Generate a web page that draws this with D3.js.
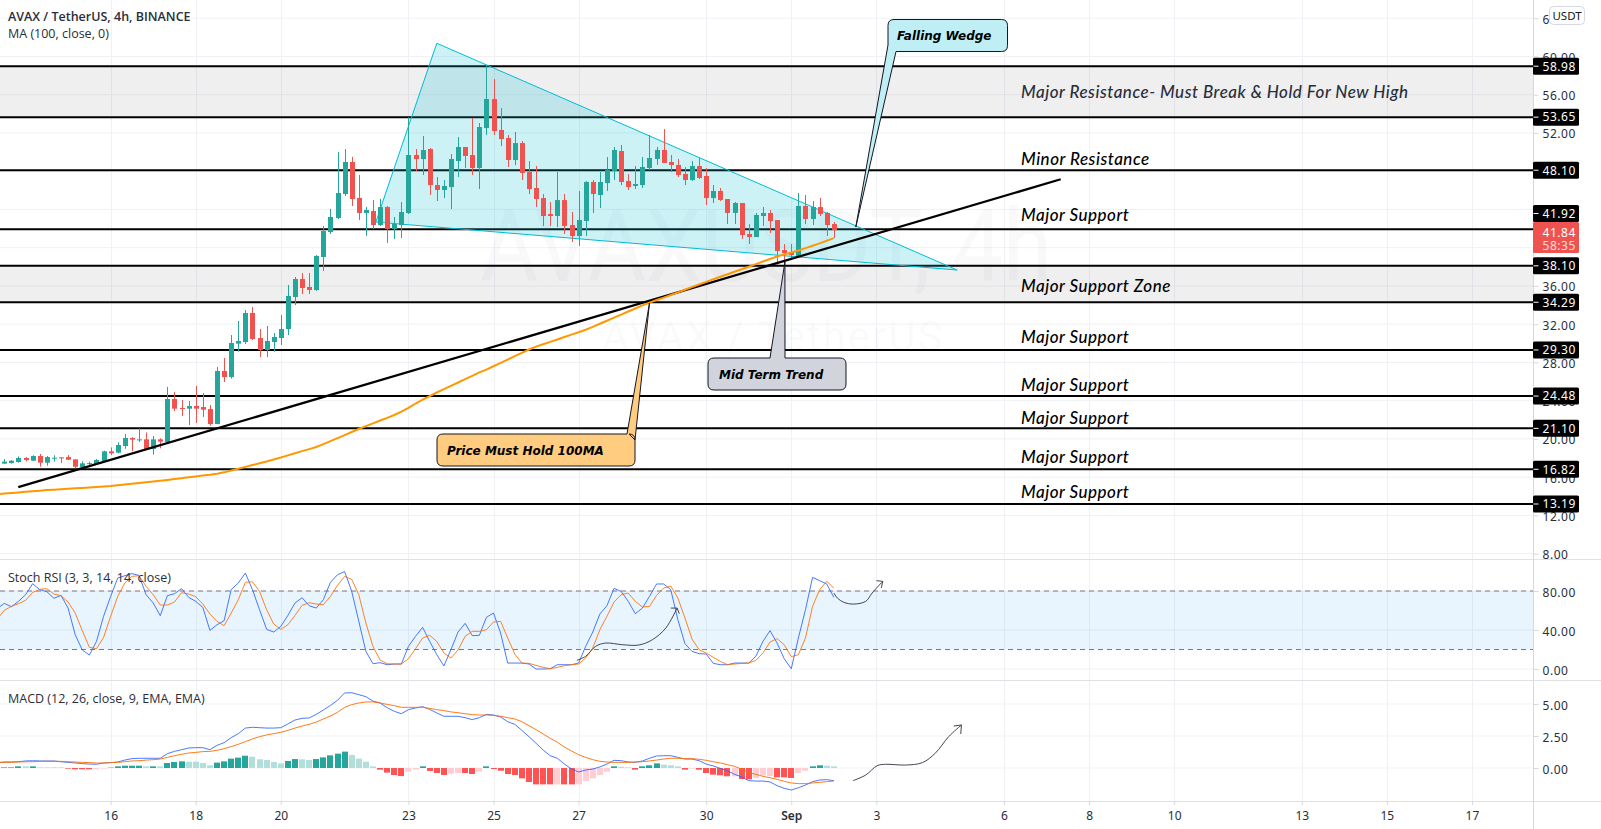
<!DOCTYPE html>
<html>
<head>
<meta charset="utf-8">
<title>AVAX / TetherUS, 4h</title>
<script src="https://cdn.jsdelivr.net/npm/d3@7"></script>
<style>
  html, body { margin: 0; padding: 0; background: #fff; overflow: hidden; }
  svg { display: block; }
</style>
</head>
<body>
<svg id="chart" width="1601" height="829"></svg>
<script>
// 4h candles
const opens = [17.41,17.47,17.58,18.00,17.72,18.21,17.51,17.93,18.07,18.10,
  17.86,17.02,17.37,17.37,17.68,18.70,18.56,19.25,20.09,19.85,
  19.95,18.94,19.95,19.67,24.17,23.23,23.16,23.44,23.33,23.12,
  21.55,27.10,26.47,29.96,30.13,33.17,30.55,29.30,30.13,30.55,
  31.49,34.84,36.72,35.89,35.57,39.02,41.64,43.10,45.61,48.96,
  45.20,43.63,43.84,42.37,44.25,41.95,42.37,43.62,49.69,49.27,
  50.32,46.55,46.03,46.34,49.06,50.53,49.69,48.33,52.51,55.55,
  52.31,51.47,49.17,50.94,47.91,46.24,45.19,43.52,43.31,44.98,
  42.37,41.22,42.79,46.87,45.51,46.76,48.02,50.11,46.97,46.45,
  46.55,48.33,49.27,50.22,48.96,48.65,47.71,47.08,48.54,47.50,
  45.19,45.93,45.09,43.63,44.67,41.43,41.11,43.31,43.63,42.89,
  39.75,39.55,39.02,44.36,43.00,44.25,43.63,42.47];
const highs = [17.89,17.79,18.17,18.10,18.28,18.42,18.21,18.28,18.07,18.31,
  17.86,17.65,17.62,17.89,18.77,19.11,19.64,20.51,20.19,21.10,
  20.68,20.30,20.06,25.43,24.90,24.06,23.96,25.53,24.80,23.54,
  27.52,28.46,30.86,32.33,33.48,33.79,31.49,31.81,31.07,32.96,
  36.10,36.93,37.35,37.35,39.23,42.27,44.05,50.01,50.32,49.49,
  47.60,44.25,44.99,45.09,44.36,43.21,44.78,53.63,50.32,51.68,
  50.42,47.39,47.07,49.79,51.57,50.53,53.56,53.04,59.10,57.64,
  54.61,51.78,52.10,51.15,49.06,48.54,45.61,44.77,47.91,45.61,
  43.73,45.92,46.97,47.07,47.91,49.48,50.53,50.74,47.70,48.54,
  49.48,51.78,50.53,52.41,49.69,49.27,48.44,49.06,49.38,48.33,
  46.55,46.24,45.09,44.78,44.67,42.47,43.63,44.25,43.94,42.89,
  40.38,40.38,45.72,45.51,44.88,45.19,43.73,42.68];
const lows = [17.41,17.41,17.51,17.65,17.68,17.09,17.20,17.62,17.47,17.79,
  16.95,16.95,17.02,17.27,17.65,18.31,18.49,18.97,18.73,19.67,
  18.83,18.35,19.01,19.60,22.91,22.39,21.45,21.66,22.29,21.38,
  21.55,25.95,26.30,29.12,29.92,30.34,28.56,28.56,29.12,29.82,
  30.86,34.00,35.15,35.15,35.47,37.56,41.43,43.00,45.41,44.36,
  42.89,41.22,41.95,42.27,40.49,40.91,41.01,43.52,48.02,47.60,
  45.51,44.88,45.19,44.04,47.39,48.33,47.60,46.13,51.78,51.78,
  50.63,48.43,48.64,47.07,45.61,44.25,42.26,42.26,42.16,41.43,
  40.59,40.17,41.22,43.62,44.15,45.93,47.08,46.55,46.03,46.14,
  46.24,48.12,48.65,48.86,47.91,47.39,46.55,46.97,47.18,44.46,
  44.67,44.88,42.47,42.47,40.91,40.38,41.11,42.27,41.53,38.19,
  38.20,38.71,38.92,42.47,42.37,43.31,41.22,41.01];
const closes = [17.62,17.72,18.00,17.79,18.21,17.51,18.10,18.03,17.96,17.82,
  17.09,17.44,17.47,17.79,18.70,18.49,19.36,20.09,19.92,19.95,
  18.90,19.95,19.71,24.17,23.16,23.16,23.44,23.16,23.05,21.55,
  27.10,26.47,30.03,30.24,33.17,30.45,29.30,30.24,30.66,31.49,
  34.95,36.72,35.78,35.57,39.13,41.74,43.21,45.72,48.96,45.09,
  43.63,43.94,42.37,44.25,41.95,42.48,43.73,49.69,49.27,50.21,
  46.55,46.03,46.45,49.27,50.53,49.59,48.33,52.62,55.55,52.20,
  51.36,49.17,50.94,47.81,46.13,45.09,43.31,43.31,44.98,42.26,
  41.22,42.89,46.87,45.61,46.87,48.12,50.22,46.87,46.35,46.66,
  48.44,49.38,50.22,48.86,48.65,47.60,47.08,48.54,47.29,45.19,
  45.93,44.99,43.63,44.67,41.32,41.11,43.42,43.63,42.79,39.65,
  39.44,39.23,44.36,43.00,44.25,43.52,42.37,41.84];

// line series start one candle earlier, so they reach the left edge
const ma100 = [14.22,14.28,14.34,14.40,14.46,14.52,14.58,14.65,14.69,14.74,14.78,
  14.83,14.87,14.92,14.97,15.02,15.07,15.15,15.22,15.30,15.38,
  15.46,15.54,15.62,15.71,15.80,15.89,15.98,16.07,16.16,16.25,
  16.36,16.50,16.70,16.88,17.07,17.26,17.45,17.64,17.85,18.05,
  18.28,18.50,18.72,18.93,19.15,19.45,19.76,20.08,20.40,20.72,
  21.03,21.33,21.63,21.92,22.20,22.50,22.85,23.25,23.70,24.10,
  24.48,24.85,25.20,25.55,25.90,26.25,26.60,26.95,27.25,27.60,
  27.95,28.30,28.65,29.00,29.35,29.65,29.90,30.15,30.40,30.65,
  30.90,31.15,31.42,31.72,32.04,32.36,32.68,33.00,33.32,33.64,
  33.96,34.25,34.52,34.78,35.05,35.32,35.60,35.88,36.15,36.42,
  36.70,36.96,37.22,37.48,37.74,38.00,38.28,38.55,38.82,39.08,
  39.30,39.50,39.70,39.95,40.20,40.45,40.72,41.00];

const stochK = [61.9,67.3,63.9,69.4,76.2,87.5,81.4,79.3,72.5,75.5,62.5,
  35.2,19.5,14.3,28.3,54.0,74.5,93.3,95.7,97.8,96.0,
  76.2,67.7,54.7,75.2,77.2,82.4,73.5,69.4,63.2,39.6,
  45.4,49.5,81.4,88.2,98.4,81.4,60.8,40.7,37.9,43.7,
  55.0,67.7,73.1,64.9,62.5,71.1,88.9,96.7,100,79.6,
  48.9,18.1,5.4,6.5,4.4,5.1,5.1,23.2,33.5,42.7,
  28.3,14.7,3.1,20.0,37.9,46.8,34.2,34.5,53.0,57.4,
  36.9,6.1,6.1,6.1,5.1,0,0,0.3,4.4,4.4,
  4.4,6.1,23.2,37.9,56.4,64.9,82.7,79.6,69.4,56.7,
  62.5,74.5,87.2,87.2,81.4,50.6,26.0,18.1,15.7,15.4,
  5.8,4.4,4.4,6.1,6.1,6.1,13.0,28.3,39.3,26.6,
  10.6,0.3,31.8,60.8,94.0,90.6,87.2,73.5];
const stochD = [51.3,60.2,64.2,67.0,70.4,78.6,81.7,82.4,76.9,75.2,68.7,
  57.4,39.3,22.2,20.8,32.4,54.0,74.5,88.2,95.0,95.7,
  84.8,76.2,65.6,65.6,68.7,78.3,76.9,74.2,66.6,56.4,
  48.9,44.4,57.4,71.1,88.9,89.5,79.6,60.8,46.1,40.7,
  45.4,55.0,65.3,68.0,66.6,66.0,74.5,85.8,95.0,91.9,
  76.2,47.2,23.2,9.2,5.4,5.1,5.1,10.6,20.8,31.8,
  34.5,28.3,16.4,11.3,19.5,33.5,38.6,38.6,40.3,48.2,
  48.9,31.8,15.4,6.1,5.8,3.7,1.7,0.3,1.7,3.4,
  4.4,5.1,11.3,21.5,40.3,54.0,68.7,76.2,77.9,69.4,
  63.6,64.2,75.5,83.0,85.1,72.8,52.3,30.7,19.8,16.4,
  11.9,7.8,4.4,5.1,5.8,6.1,8.8,16.4,27.7,31.1,
  24.9,12.6,14.7,31.8,64.2,81.4,89.9,83.0];

const macdLine = [0.42,0.47,0.47,0.49,0.55,0.57,0.55,0.55,0.55,0.49,0.44,
  0.39,0.34,0.31,0.29,0.39,0.42,0.47,0.62,0.73,0.76,
  0.76,0.76,0.76,1.12,1.30,1.43,1.56,1.59,1.59,1.43,
  1.77,1.98,2.37,2.68,3.12,3.18,3.15,3.12,3.12,3.15,
  3.44,3.75,3.88,3.91,4.19,4.53,4.89,5.29,5.86,5.88,
  5.73,5.57,5.23,5.08,4.71,4.43,4.24,4.56,4.69,4.79,
  4.58,4.30,4.04,4.04,4.04,3.93,3.78,3.93,4.19,4.14,
  3.98,3.62,3.41,2.94,2.45,1.93,1.41,0.96,0.76,0.31,
  -0.08,-0.31,-0.16,-0.08,0.08,0.31,0.60,0.57,0.47,0.44,
  0.55,0.76,0.94,0.96,0.96,0.83,0.70,0.70,0.57,0.31,
  0.16,-0.03,-0.23,-0.49,-0.70,-0.99,-1.02,-1.02,-1.09,-1.38,
  -1.59,-1.72,-1.54,-1.33,-1.07,-0.94,-0.91,-0.99];
const macdSignal = [0.42,0.44,0.44,0.47,0.49,0.49,0.52,0.52,0.52,0.52,0.49,
  0.47,0.44,0.42,0.39,0.39,0.42,0.44,0.49,0.55,0.57,
  0.62,0.65,0.70,0.83,0.96,1.07,1.17,1.22,1.28,1.30,
  1.38,1.51,1.67,1.85,2.06,2.27,2.45,2.58,2.68,2.79,
  2.94,3.12,3.28,3.41,3.59,3.83,4.06,4.35,4.74,4.95,
  5.08,5.16,5.16,5.08,4.97,4.87,4.74,4.74,4.74,4.74,
  4.66,4.56,4.48,4.38,4.32,4.24,4.17,4.14,4.14,4.11,
  4.04,3.93,3.83,3.62,3.31,2.99,2.66,2.32,2.01,1.64,
  1.33,1.04,0.83,0.65,0.52,0.47,0.44,0.44,0.44,0.47,
  0.49,0.55,0.62,0.70,0.76,0.76,0.73,0.73,0.68,0.60,
  0.49,0.39,0.26,0.13,-0.10,-0.36,-0.49,-0.65,-0.76,-0.89,
  -1.04,-1.17,-1.22,-1.22,-1.17,-1.12,-1.07,-1.02];

const macdHist = [0.05,0.05,0.13,0.13,0.13,0.05,0.05,0.05,0.05,-0.05,
  -0.10,-0.10,-0.10,-0.10,-0.05,0.03,0.13,0.18,0.18,0.18,
  0.13,0.13,0.13,0.39,0.47,0.52,0.49,0.49,0.39,0.21,
  0.42,0.52,0.73,0.81,0.96,0.89,0.68,0.63,0.47,0.36,
  0.55,0.70,0.68,0.63,0.70,0.83,0.99,1.12,1.28,1.02,
  0.73,0.49,0.13,-0.13,-0.36,-0.55,-0.63,-0.29,-0.13,0.13,
  -0.23,-0.39,-0.55,-0.44,-0.39,-0.39,-0.47,-0.29,0.13,-0.08,
  -0.21,-0.47,-0.55,-0.81,-1.09,-1.28,-1.28,-1.28,-1.28,-1.28,
  -1.28,-1.28,-1.02,-0.81,-0.55,-0.29,0.13,0.10,0.05,-0.13,
  0.13,0.21,0.36,0.26,0.21,0.13,-0.13,-0.05,-0.13,-0.39,
  -0.52,-0.57,-0.65,-0.65,-0.86,-0.89,-0.78,-0.57,-0.63,-0.73,
  -0.73,-0.78,-0.39,-0.21,0.13,0.21,0.18,0.13];
// d = strong green, l = pale green, r = strong red, p = pale red
const macdHistKind = ("dddldllllrrrrppdddddldlddd" + "llllddddd" + "lllllddllddddd" + "llllrrrrppdrrrpprrpd"
  + "rrrrrrrrrprrpppppdllrdddlllrprrrrrprrppprrrppddll").split("");

const xDayTicks = [15, 27, 39, 57, 69, 81, 99, 111, 123, 141, 153, 165, 183, 195, 207];
const xDayLabels = ["16", "18", "20", "23", "25", "27", "30", "Sep", "3", "6", "8", "10", "13", "15", "17"];

const priceTicks = [64, 60, 56, 52, 48, 44, 40, 36, 32, 28, 24, 20, 16, 12, 8];
const stochTicks = [80, 40, 0];
const macdTicks = [5, 2.5, 0];

const levels = [58.98, 53.65, 48.10, 41.92, 38.10, 34.29, 29.30, 24.48, 21.10, 16.82, 13.19];
const zones = [[53.65, 58.98], [34.29, 38.10]];

const noteTexts = ["Major Resistance- Must Break & Hold For New High", "Minor Resistance", "Major Support", "Major Support Zone",
  "Major Support", "Major Support", "Major Support", "Major Support", "Major Support"];
const notePrices = [55.7, 48.6, 42.8, 35.4, 30.05, 25.0, 21.6, 17.45, 13.8];

// drawing tool anchors, [candle index, price]
const wedgePoints = [[52.4, 42.68], [61.0, 61.38], [134.4, 37.66]];
const trendPoints = [[1.97, 14.96], [149, 47.15]];
// arrows in the indicator panes, [candle index, value]
const stochArrowA = [[80.75, 8.9], [82, 13], [83.4, 23.2], [84.8, 26.6], [87.2, 24.9], [89.5, 24.6], [91.4, 30], [93.3, 42], [94.9, 62.5]];
const stochHeadA = [[94, 62.5], [94.9, 62.5], [95.2, 56.7]];
const stochArrowB = [[117, 77.9], [117.5, 72.8], [118.4, 68.4], [119.8, 66.6], [121.5, 69.4], [122.4, 77.9], [123.9, 89.9]];
const stochHeadB = [[123, 90.6], [123.9, 89.9], [123.7, 83.1]];
const macdArrow = [[119.7, -0.99], [121.5, -0.55], [123.1, 0.18], [124.3, 0.29], [127.1, 0.23], [129.5, 0.42], [131.3, 1.15], [133.2, 2.45], [135, 3.36]];
const macdHead = [[133.9, 3.28], [135, 3.36], [134.9, 2.66]];

const width = 1601, height = 829;
const axisX = 1533.5;
const priceBottom = 559, stochBottom = 680, macdBottom = 801;
const uiFont = "'Open Sans', 'Noto Sans', sans-serif";
const axisFont = "'Noto Sans', 'Open Sans', sans-serif";
const noteFont = "Lato, 'Noto Sans', sans-serif";
const boxFont = "'DejaVu Sans', sans-serif";

const svg = d3.select("#chart");

const x = d3.scaleLinear().domain([0, 117]).range([4.3, 4.3 + 117 * 7.09]);
const yPrice = d3.scaleLinear().domain([58.98, 13.19]).range([66.2, 504]);
const yStoch = d3.scaleLinear().domain([0, 80]).range([669, 591]);
const yMacd = d3.scaleLinear().domain([0, 5]).range([768, 704]);

svg.append("defs").append("clipPath").attr("id", "plot")
  .append("rect").attr("width", axisX).attr("height", height);

const plot = svg.append("g").attr("clip-path", "url(#plot)");

// grid
const grid = plot.append("g").attr("stroke", "#f0f1f5").attr("stroke-width", 1);
grid.selectAll(".v").data(xDayTicks).join("line")
  .attr("x1", d => Math.round(x(d)) + 0.5).attr("x2", d => Math.round(x(d)) + 0.5)
  .attr("y1", 0).attr("y2", macdBottom);
grid.selectAll(".p").data(priceTicks).join("line")
  .attr("x1", 0).attr("x2", axisX)
  .attr("y1", d => yPrice(d)).attr("y2", d => yPrice(d));
grid.selectAll(".s").data(stochTicks).join("line")
  .attr("x1", 0).attr("x2", axisX)
  .attr("y1", d => yStoch(d)).attr("y2", d => yStoch(d));
grid.selectAll(".m").data(macdTicks).join("line")
  .attr("x1", 0).attr("x2", axisX)
  .attr("y1", d => yMacd(d)).attr("y2", d => yMacd(d));

// watermark
plot.append("text").text("AVAXUSDT, 4h")
  .attr("x", 480).attr("y", 281).attr("textLength", 572).attr("lengthAdjust", "spacingAndGlyphs")
  .attr("font-family", "Roboto, sans-serif").attr("font-size", 100)
  .attr("fill", "#787b86").attr("fill-opacity", 0.045);
plot.append("text").text("AVAX / TetherUS")
  .attr("x", 773).attr("y", 351).attr("text-anchor", "middle")
  .attr("font-family", "Roboto, sans-serif").attr("font-size", 42)
  .attr("letter-spacing", 2)
  .attr("fill", "#787b86").attr("fill-opacity", 0.04);

// zones and levels
plot.selectAll(".zone").data(zones).join("rect")
  .attr("x", 0).attr("width", axisX)
  .attr("y", d => yPrice(d[1])).attr("height", d => yPrice(d[0]) - yPrice(d[1]))
  .attr("fill", "#787b86").attr("fill-opacity", 0.12);
plot.selectAll(".level").data(levels).join("line")
  .attr("x1", 0).attr("x2", axisX)
  .attr("y1", d => yPrice(d)).attr("y2", d => yPrice(d))
  .attr("stroke", "#000").attr("stroke-width", 2);

// wedge
const linePts = d3.line().x(d => x(d[0]));
plot.append("path")
  .attr("d", linePts.y(d => yPrice(d[1]))(wedgePoints) + "Z")
  .attr("fill", "#00bcd4").attr("fill-opacity", 0.2)
  .attr("stroke", "#00bcd4").attr("stroke-width", 1);

// candles
const candles = opens.map((o, i) => ({ i, o, h: highs[i], l: lows[i], c: closes[i] }));
const upColor = "#26a69a", downColor = "#ef5350";
const candleG = plot.append("g");
candleG.selectAll(".wick").data(candles).join("line")
  .attr("x1", d => Math.round(x(d.i)) + 0.5).attr("x2", d => Math.round(x(d.i)) + 0.5)
  .attr("y1", d => yPrice(d.h)).attr("y2", d => yPrice(d.l))
  .attr("stroke", d => d.c >= d.o ? upColor : downColor).attr("stroke-width", 1);
candleG.selectAll(".body").data(candles).join("rect")
  .attr("x", d => Math.round(x(d.i)) - 2)
  .attr("width", 5)
  .attr("y", d => yPrice(Math.max(d.o, d.c)))
  .attr("height", d => Math.max(1, Math.abs(yPrice(d.o) - yPrice(d.c))))
  .attr("fill", d => d.c >= d.o ? upColor : downColor);

// trend line, then the 100 MA over it
const serie = (values, y) => d3.line().x((d, i) => x(i - 1)).y(d => y(d))(values);
plot.append("path").attr("d", linePts.y(d => yPrice(d[1]))(trendPoints))
  .attr("fill", "none").attr("stroke", "#000").attr("stroke-width", 2.2);
plot.append("path").attr("d", serie(ma100, yPrice))
  .attr("fill", "none").attr("stroke", "#ff9800").attr("stroke-width", 2);

// level notes
plot.selectAll(".note").data(noteTexts).join("text")
  .text(d => d)
  .attr("x", 1021).attr("y", (d, i) => yPrice(notePrices[i]))
  .attr("font-family", noteFont).attr("font-style", "italic").attr("font-weight", 500)
  .attr("font-size", 17).attr("letter-spacing", 0.5)
  .attr("fill", (d, i) => i == 0 ? "#2a2e39" : "#000");

// callouts, tail tip sits on a price point
function callout(left, top, right, bottom, tail, fill, label, textX) {
  const r = 6;
  const p = d3.path();
  p.moveTo(left + r, top);
  if (tail.side == "top") {
    p.lineTo(tail.a, top);
    p.lineTo(x(tail.tip[0]), yPrice(tail.tip[1]));
    p.lineTo(tail.b, tail.bY || top);
  }
  p.lineTo(right - r, top);
  p.quadraticCurveTo(right, top, right, top + r);
  p.lineTo(right, bottom - r);
  p.quadraticCurveTo(right, bottom, right - r, bottom);
  if (tail.side == "bottom") {
    p.lineTo(tail.b, bottom);
    p.lineTo(x(tail.tip[0]), yPrice(tail.tip[1]));
    p.lineTo(left, tail.aY);
  } else {
    p.lineTo(left + r, bottom);
    p.quadraticCurveTo(left, bottom, left, bottom - r);
  }
  p.lineTo(left, top + r);
  p.quadraticCurveTo(left, top, left + r, top);
  p.closePath();
  plot.append("path").attr("d", p.toString())
    .attr("fill", fill).attr("stroke", "#131722").attr("stroke-width", 1).attr("stroke-linejoin", "round");
  plot.append("text").text(label)
    .attr("x", textX).attr("y", (top + bottom) / 2 + 4.5)
    .attr("font-family", boxFont).attr("font-weight", 700).attr("font-style", "italic")
    .attr("font-size", 12).attr("fill", "#000");
}
callout(888, 19.5, 1007.5, 51.5, { side: "bottom", b: 896, tip: [120.1, 42.16], aY: 45 }, "#bfeef4", "Falling Wedge", 897);
callout(437, 434, 635, 466, { side: "top", a: 627, tip: [91, 34.21], b: 635, bY: 440 }, "#ffcc80", "Price Must Hold 100MA", 447);
callout(708, 358, 846, 390, { side: "top", a: 770, tip: [110.1, 38.5], b: 785 }, "#d1d4dc", "Mid Term Trend", 719);

// stoch rsi
plot.append("rect").attr("x", 0).attr("width", axisX)
  .attr("y", yStoch(80)).attr("height", yStoch(20) - yStoch(80))
  .attr("fill", "#2196f3").attr("fill-opacity", 0.1);
plot.selectAll(".band").data([80, 20]).join("line")
  .attr("x1", 0).attr("x2", axisX)
  .attr("y1", d => yStoch(d)).attr("y2", d => yStoch(d))
  .attr("stroke", "#787b86").attr("stroke-width", 1).attr("stroke-dasharray", "5 4");
plot.append("path").attr("d", serie(stochK, yStoch))
  .attr("fill", "none").attr("stroke", "#2962ff").attr("stroke-opacity", 0.85).attr("stroke-width", 1);
plot.append("path").attr("d", serie(stochD, yStoch))
  .attr("fill", "none").attr("stroke", "#ff6d00").attr("stroke-opacity", 0.85).attr("stroke-width", 1);

// macd
const histColor = { d: "#26a69a", l: "#b2dfdb", r: "#ff5252", p: "#ffcdd2" };
plot.selectAll(".hist").data(macdHist).join("rect")
  .attr("x", (d, i) => Math.round(x(i)) - 3)
  .attr("width", 6)
  .attr("y", d => Math.min(yMacd(d), yMacd(0)))
  .attr("height", d => Math.abs(yMacd(d) - yMacd(0)))
  .attr("fill", (d, i) => histColor[macdHistKind[i]]);
plot.append("path").attr("d", serie(macdLine, yMacd))
  .attr("fill", "none").attr("stroke", "#2962ff").attr("stroke-opacity", 0.85).attr("stroke-width", 1);
plot.append("path").attr("d", serie(macdSignal, yMacd))
  .attr("fill", "none").attr("stroke", "#ff6d00").attr("stroke-opacity", 0.9).attr("stroke-width", 1);

// hand drawn arrows
function arrow(points, head, y) {
  const curve = d3.line().x(d => x(d[0])).y(d => y(d[1])).curve(d3.curveCatmullRom);
  const straight = d3.line().x(d => x(d[0])).y(d => y(d[1]));
  plot.append("path").attr("d", curve(points))
    .attr("fill", "none").attr("stroke", "#434651").attr("stroke-width", 1);
  plot.append("path").attr("d", straight(head))
    .attr("fill", "none").attr("stroke", "#434651").attr("stroke-width", 1);
}
arrow(stochArrowA, stochHeadA, yStoch);
arrow(stochArrowB, stochHeadB, yStoch);
arrow(macdArrow, macdHead, yMacd);

// pane separators and price axis line
svg.selectAll(".sep").data([priceBottom, stochBottom, macdBottom]).join("line")
  .attr("x1", 0).attr("x2", width)
  .attr("y1", d => d + 0.5).attr("y2", d => d + 0.5)
  .attr("stroke", "#dfe1e6").attr("stroke-width", 1);
svg.append("line").attr("x1", axisX).attr("x2", axisX).attr("y1", 0).attr("y2", height)
  .attr("stroke", "#d6d8de").attr("stroke-width", 1);

// axes
function styleAxis(g) {
  g.select(".domain").remove();
  g.selectAll(".tick line").attr("stroke", "#d6d8de");
  g.selectAll(".tick text").attr("fill", "#2a2e39")
    .attr("font-family", axisFont).attr("font-size", 12).attr("letter-spacing", 0.55);
}
const nudgeLabels = g => g.selectAll(".tick text").attr("dy", "0.42em");
const fmt = d3.format(".2f");
svg.append("g").attr("transform", `translate(${axisX},0)`)
  .call(d3.axisRight(yPrice).tickValues(priceTicks).tickSize(5).tickPadding(4).tickFormat(fmt)).call(styleAxis).call(nudgeLabels);
svg.append("g").attr("transform", `translate(${axisX},0)`)
  .call(d3.axisRight(yStoch).tickValues(stochTicks).tickSize(5).tickPadding(4).tickFormat(fmt)).call(styleAxis).call(nudgeLabels);
svg.append("g").attr("transform", `translate(${axisX},0)`)
  .call(d3.axisRight(yMacd).tickValues(macdTicks).tickSize(5).tickPadding(4).tickFormat(fmt)).call(styleAxis).call(nudgeLabels);
const timeAxis = svg.append("g").attr("transform", `translate(0,${macdBottom})`)
  .call(d3.axisBottom(x).tickValues(xDayTicks).tickSize(4).tickPadding(6.5)
    .tickFormat((d, i) => xDayLabels[i])).call(styleAxis);
timeAxis.selectAll(".tick text").attr("letter-spacing", 0)
  .attr("font-weight", (d, i) => xDayLabels[i] == "Sep" ? 600 : 400);

// price flags
const flagY = d => d == 41.92 ? 213.5 : yPrice(d);
const flags = svg.selectAll(".flag").data(levels).join("g")
  .attr("transform", d => `translate(${axisX},${flagY(d)})`);
flags.append("rect").attr("x", -0.5).attr("y", -8.5).attr("width", 46).attr("height", 17).attr("rx", 1.5).attr("fill", "#000");
flags.append("line").attr("x1", 0).attr("x2", 5).attr("stroke", "#fff");
flags.append("text").text(d => fmt(d))
  .attr("x", 9).attr("y", 4.3).attr("fill", "#fff")
  .attr("font-family", axisFont).attr("font-size", 12).attr("letter-spacing", 0.55);

// last price
const last = svg.append("g").attr("transform", `translate(${axisX},222)`);
last.append("rect").attr("x", -0.5).attr("width", 46).attr("height", 31).attr("rx", 1.5).attr("fill", "#ef5350");
last.append("text").text(fmt(closes[closes.length - 1]))
  .attr("x", 9).attr("y", 14.5).attr("fill", "#fff")
  .attr("font-family", axisFont).attr("font-size", 12).attr("letter-spacing", 0.55);
last.append("text").text("58:35")
  .attr("x", 9).attr("y", 27.5).attr("fill", "#fff").attr("fill-opacity", 0.8)
  .attr("font-family", axisFont).attr("font-size", 12).attr("letter-spacing", 0.55);

// currency button
svg.append("rect").attr("x", 1549.5).attr("y", 6.5).attr("width", 35).attr("height", 18).attr("rx", 4)
  .attr("fill", "#fff").attr("stroke", "#d6d8e6");
svg.append("text").text("USDT").attr("x", 1567).attr("y", 20).attr("text-anchor", "middle")
  .attr("font-family", axisFont).attr("font-size", 11.5).attr("fill", "#131722");

// legends
const legends = [
  { t: "AVAX / TetherUS, 4h, BINANCE", y: 21, w: 600 },
  { t: "MA (100, close, 0)", y: 38, w: 400 },
  { t: "Stoch RSI (3, 3, 14, 14, close)", y: 581.5, w: 400 },
  { t: "MACD (12, 26, close, 9, EMA, EMA)", y: 703, w: 400 }
];
svg.selectAll(".legend").data(legends).join("text")
  .text(d => d.t).attr("x", 8).attr("y", d => d.y)
  .attr("font-family", uiFont).attr("font-size", 12.5).attr("font-weight", d => d.w)
  .attr("fill", "#2a2e39");
</script>
</body>
</html>
